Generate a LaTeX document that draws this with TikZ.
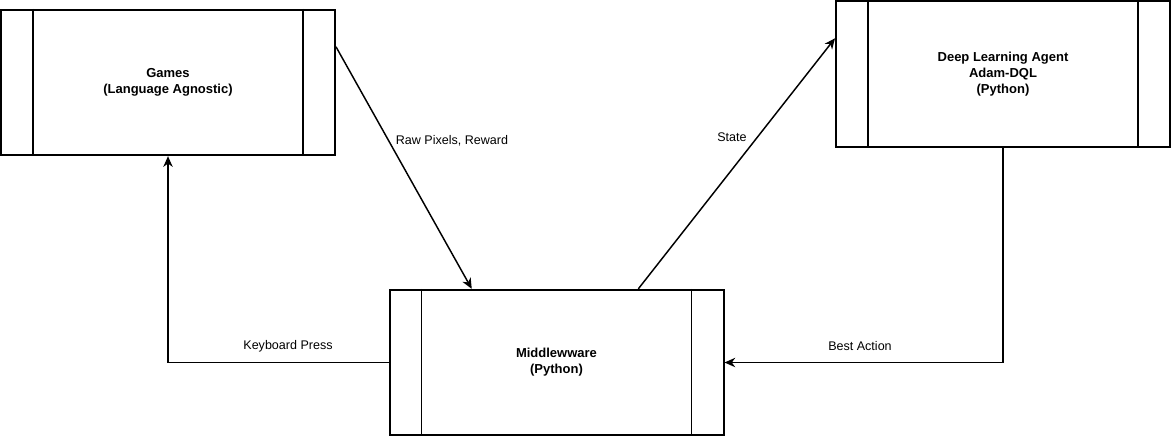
\documentclass[tikz,border=0pt]{standalone}
\usepackage{fontspec}
\setmainfont{Liberation Sans}
\usetikzlibrary{arrows.meta}
\tikzstyle{process}=[draw,line width=1.5pt,minimum width=250.5pt,minimum height=109pt,inner sep=0pt,align=center,font=\fontsize{9.75pt}{12pt}\selectfont\bfseries]
\tikzstyle{bar}=[draw,line width=1pt]
\tikzstyle{flow}=[draw,line width=1.1pt,-{Stealth[length=8pt,width=7pt,inset=2.5pt]}]
\tikzstyle{flowlabel}=[font=\fontsize{9.4pt}{11pt}\selectfont]

\begin{document}
\begin{tikzpicture}[x=0.75pt,y=-0.75pt]
    \useasboundingbox (0,0) rectangle (1171,436);
    % First we draw the three process boxes
    \foreach \pos/\name/\txt in {{(168,82.5)/games/{Games\\(Language Agnostic)}},
        {(1003,74)/agent/{Deep Learning Agent\\Adam-DQL\\(Python)}},
        {(556.5,362.5)/middle/{Middlewware\\(Python)}}}
        \node[process] (\name) at \pos {\txt};
    % The side bars of each box
    \foreach \name in {games,agent,middle} {
        \path[bar] ([xshift=24.75pt]\name.north west) -- ([xshift=24.75pt]\name.south west);
        \path[bar] ([xshift=-24.75pt]\name.north east) -- ([xshift=-24.75pt]\name.south east);
    }
    % Connect boxes with the flows
    \path[flow] (games.12.7) -- (middle.139.4);
    \path[flow] (middle.42) -- (agent.168.5);
    \path[flow] (agent.south) |- (middle.east);
    \path[flow] (middle.west) -| (games.south);
    % Flow labels
    \node[flowlabel] (pixels) at (452,141) {Raw Pixels, Reward};
    \node[flowlabel] (state) at (732,137) {State};
    \node[flowlabel] (action) at (860,346.5) {Best Action};
    \node[flowlabel] (keys) at (288,346) {Keyboard Press};
\end{tikzpicture}
\end{document}
